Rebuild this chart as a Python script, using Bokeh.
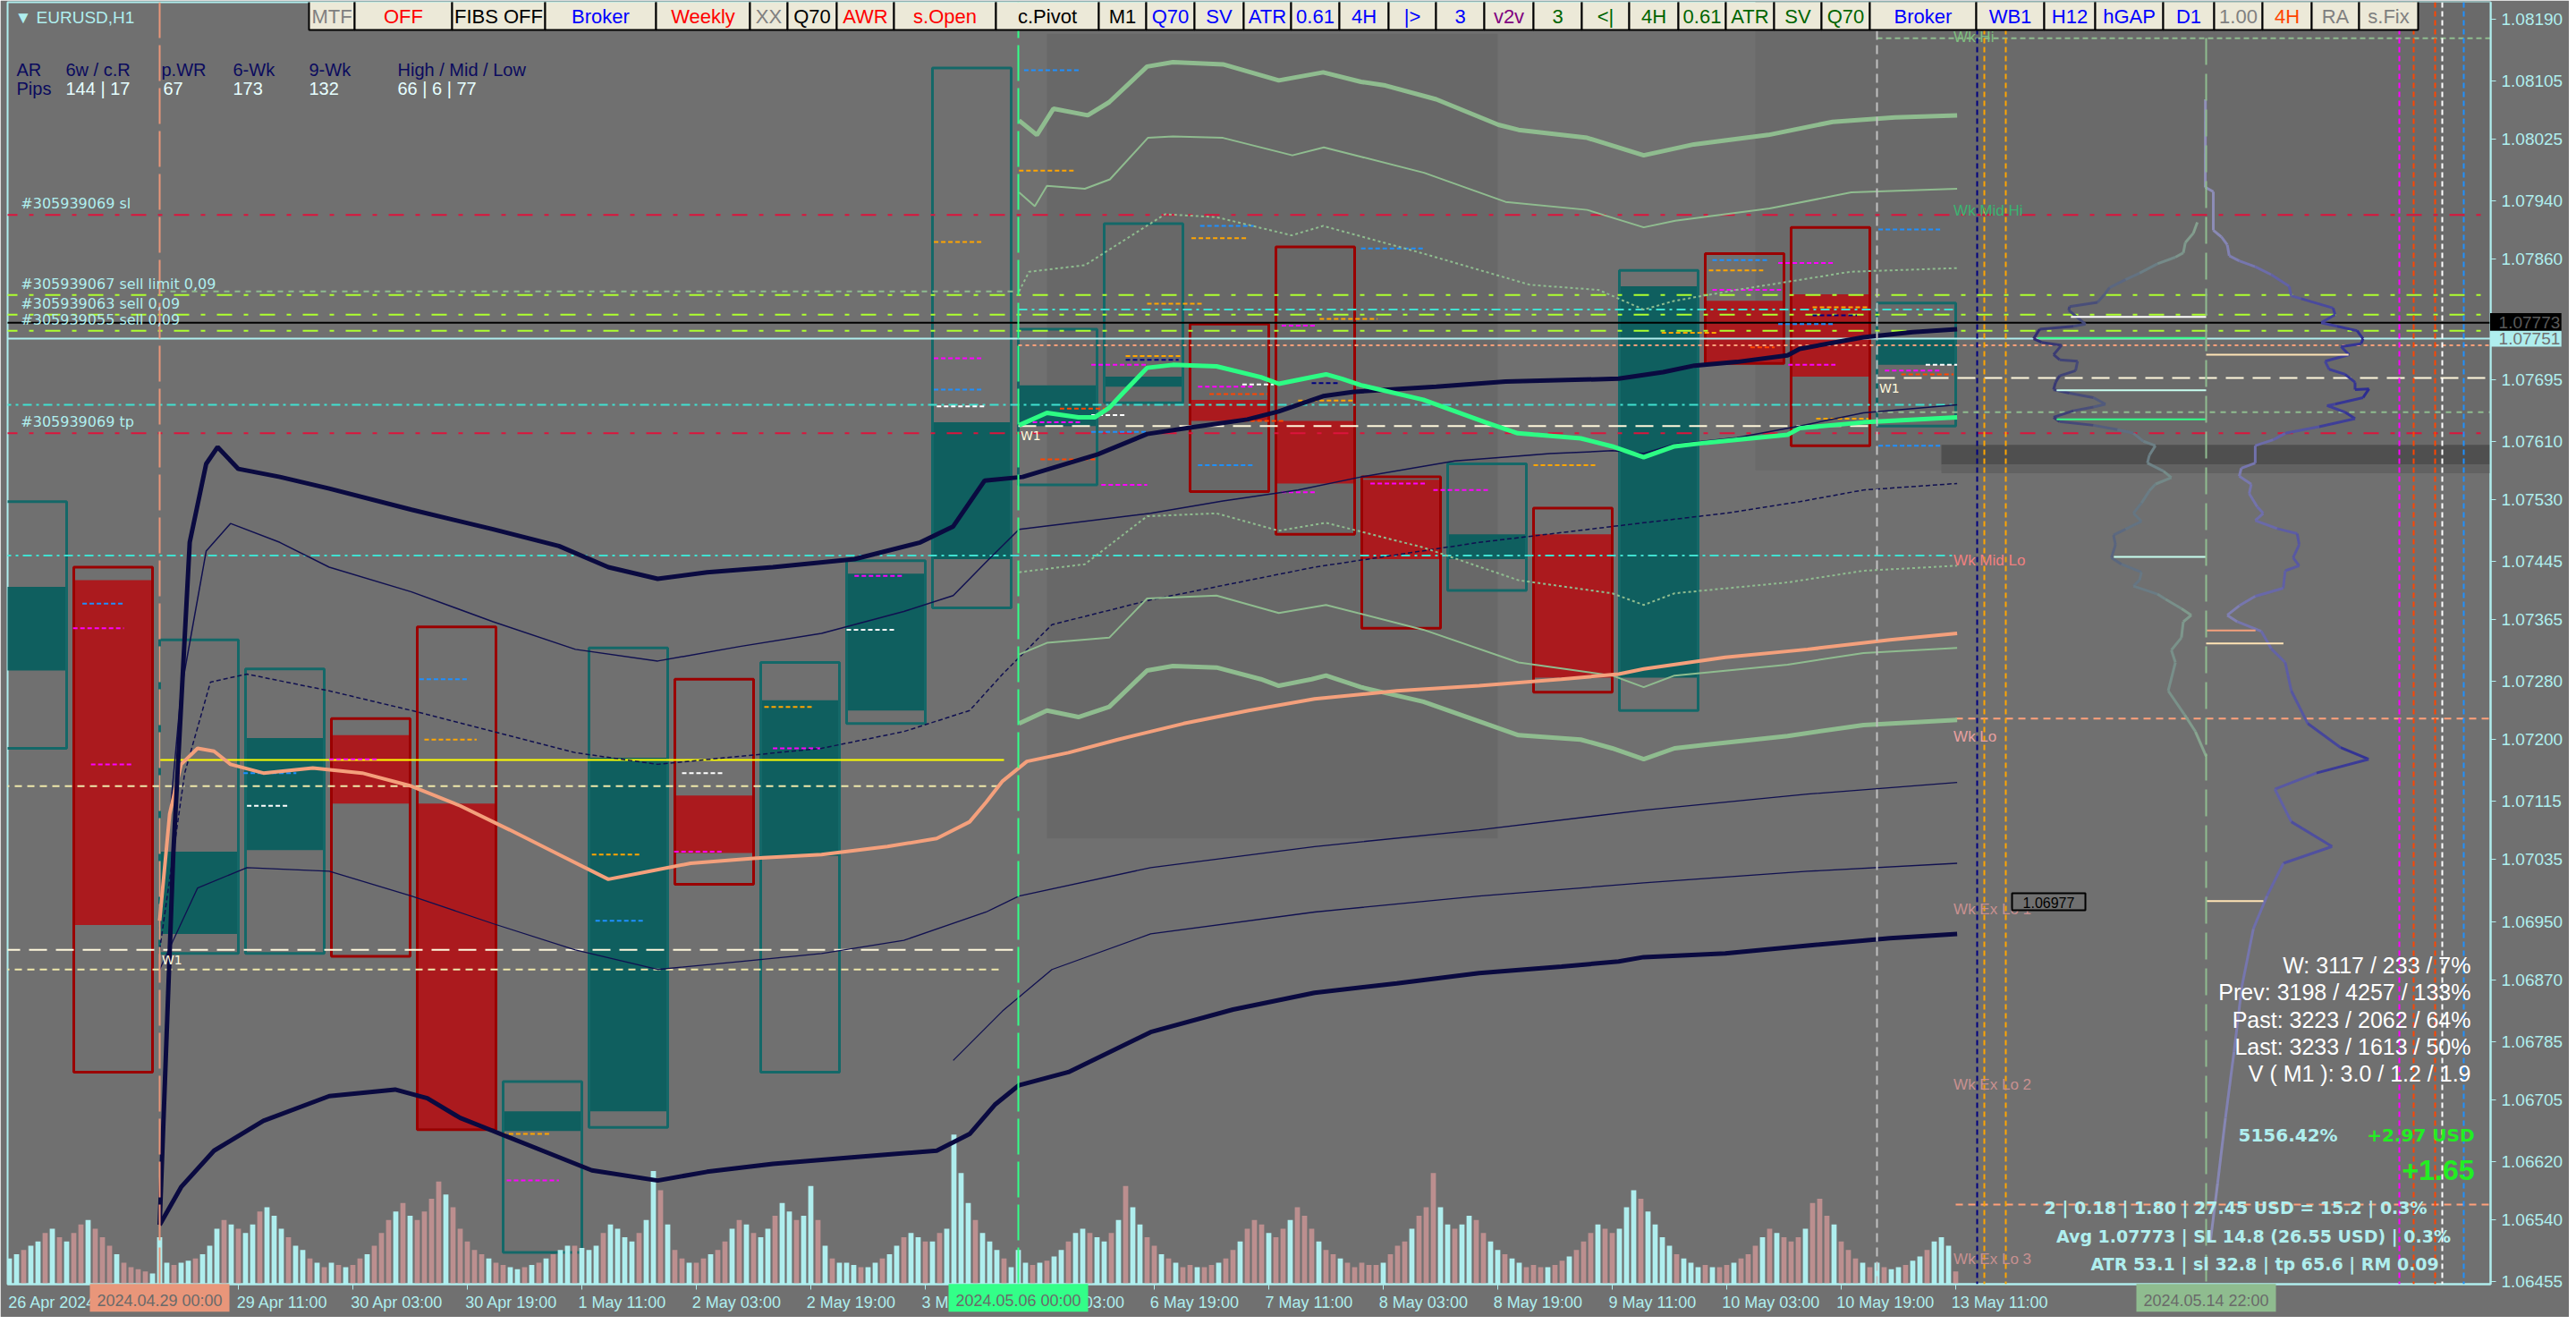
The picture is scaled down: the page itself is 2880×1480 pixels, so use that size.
from bokeh.plotting import figure
from bokeh.models import (Range1d, LinearAxis, FixedTicker, PrintfTickFormatter,
                          Label, BoxAnnotation, Span)
from bokeh.core.properties import value
from bokeh.embed import file_html
from bokeh.resources import INLINE

BG = "#707070"
FG = "#afeeee"

# ---------------- axes data ----------------
price_ticks = [1.08190, 1.08105, 1.08025, 1.07940, 1.07860, 1.07695, 1.07610, 1.07530,
               1.07445, 1.07365, 1.07280, 1.07200, 1.07115, 1.07035, 1.06950, 1.06870,
               1.06785, 1.06705, 1.06620, 1.06540, 1.06455]
# bar index 0 = 26 Apr 2024 03:00 (H1 bars)
time_tick_idx = [16, 32, 48, 64, 80, 96, 112, 128, 144, 160, 176, 192, 208, 224, 240, 256, 272]
time_tick_lbl = ["26 Apr 19:00", "29 Apr 11:00", "30 Apr 03:00", "30 Apr 19:00", "1 May 11:00",
                 "2 May 03:00", "2 May 19:00", "3 May 11:00", "6 May 03:00", "6 May 19:00",
                 "7 May 11:00", "8 May 03:00", "8 May 19:00", "9 May 11:00", "10 May 03:00",
                 "10 May 19:00", "13 May 11:00"]
first_date_lbl = "26 Apr 2024"
# highlighted dates on the time axis: bar index, text
hl_idx = [21, 141, 307]
hl_txt = ["2024.04.29 00:00", "2024.05.06 00:00", "2024.05.14 22:00"]
# tags on the price axis
tag_price = [1.07773, 1.07751]

# ---------------- H12 candles ----------------
c_start = [-3, 9, 21, 33, 45, 57, 69, 81, 93, 105, 117, 129, 141, 153, 165, 177, 189, 201, 213, 225, 237, 249, 261]
c_open = [1.07295, 1.07419, 1.06933, 1.07048, 1.07206, 1.07112, 1.06662, 1.06689, 1.07123, 1.07040, 1.07240, 1.07448,
          1.07631, 1.07685, 1.07667, 1.07638, 1.07557, 1.07448, 1.07482, 1.07285, 1.07803, 1.07812, 1.07715]
c_high = [1.07527, 1.07437, 1.07337, 1.07297, 1.07229, 1.07355, 1.06730, 1.07326, 1.07283, 1.07306, 1.07446, 1.08123,
          1.07764, 1.07909, 1.07771, 1.07877, 1.07561, 1.07579, 1.07518, 1.07845, 1.07868, 1.07904, 1.07800]
c_low = [1.07188, 1.06743, 1.06906, 1.06906, 1.06902, 1.06664, 1.06495, 1.06667, 1.07001, 1.06743, 1.07222, 1.07381,
         1.07550, 1.07663, 1.07541, 1.07482, 1.07353, 1.07405, 1.07265, 1.07240, 1.07717, 1.07604, 1.07631]
c_close = [1.07410, 1.06945, 1.07046, 1.07202, 1.07112, 1.06665, 1.06689, 1.07175, 1.07044, 1.07254, 1.07428, 1.07636,
           1.07687, 1.07699, 1.07638, 1.07552, 1.07448, 1.07482, 1.07285, 1.07823, 1.07717, 1.07699, 1.07751]

# ---------------- H1 tick volumes ----------------
vol_26apr = [600, 700, 800, 900, 1000, 1200, 1300, 1100, 1000, 1200, 1400, 1500, 1300, 1100, 900, 700, 500, 400, 350, 300, 250]
vol_29apr = [1100, 500, 450, 500, 550, 600, 700, 900, 1300, 1500, 1400, 1300, 1200, 1400, 1700, 1800, 1600, 1300, 1100, 900, 800, 600, 500, 400]
vol_30apr = [500, 450, 400, 450, 600, 700, 900, 1200, 1500, 1700, 1900, 1600, 1500, 1700, 2000, 2400, 2100, 1800, 1300, 1000, 800, 700, 600, 500]
vol_01may = [450, 400, 350, 400, 450, 500, 600, 700, 800, 900, 900, 850, 800, 900, 1200, 1400, 1300, 1100, 1000, 1200, 1500, 2650, 2200, 1400]
vol_02may = [800, 600, 500, 500, 600, 700, 800, 1000, 1300, 1500, 1400, 1200, 1100, 1300, 1600, 1900, 1700, 1500, 1600, 2300, 1500, 900, 600, 500]
vol_03may = [500, 450, 400, 400, 500, 600, 700, 900, 1100, 1200, 1100, 1000, 1000, 1200, 1300, 3500, 2600, 1900, 1500, 1200, 1000, 800, 600, 400]
vol_06may = [800, 500, 450, 500, 550, 650, 800, 1000, 1200, 1300, 1200, 1100, 1000, 1200, 1500, 2300, 1800, 1400, 1100, 900, 700, 600, 500, 400]
vol_07may = [450, 400, 400, 450, 500, 600, 800, 1000, 1300, 1500, 1400, 1200, 1100, 1300, 1500, 1800, 1600, 1300, 1000, 800, 700, 600, 500, 400]
vol_08may = [500, 450, 450, 500, 700, 900, 1000, 1300, 1600, 1800, 2600, 1800, 1400, 1300, 1400, 1600, 1500, 1200, 1000, 800, 700, 600, 500, 400]
vol_09may = [450, 400, 400, 450, 550, 650, 800, 1000, 1200, 1400, 1300, 1200, 1300, 1800, 2200, 2000, 1700, 1400, 1100, 900, 700, 600, 500, 400]
vol_10may = [450, 400, 400, 450, 500, 600, 700, 900, 1100, 1300, 1200, 1100, 1000, 1100, 1300, 1900, 2000, 1600, 1400, 1000, 800, 600, 500, 400]
vol_13may = [500, 400, 350, 400, 450, 550, 650, 800, 1000, 1100, 900, 300]
vol_dir = ("uuduududu" "dduddduddddu"
           "uuduuduuudud" "uuduuuduudud"
           "ududdudddudu" "ddddudddddud"
           "duudududuudu" "uuduuuuduudu"
           "ddudduddudud" "uuduuduududu"
           "uuduuduuduud" "uduuuuduuudu"
           "uududuuduudu" "ududuuddudud"
           "dudduddudddu" "dduddduddudd"
           "dddudddudddu" "uduudduuduud"
           "dduddudddudd" "uuuduuuuduuu"
           "duddudddudud" "ddudddudddud"
           "uduuduuduuud")

# ---------------- indicator lines (bar index, price) ----------------
nav_up_x = [21.0, 22.9, 25.2, 27.5, 29.1, 32.0, 37.8, 44.7, 56.2, 67.6, 76.8, 83.7, 90.6, 97.5, 106.7, 118.1, 127.3, 131.9, 136.3, 141.6, 152.1, 159.0, 165.2, 173.0, 177.4, 183.6, 187.9, 199.4, 209.1, 224.9, 231.1, 235.5, 241.4, 248.5, 250.2, 259.1, 266.0, 272.2]
nav_up_y = [1.06533, 1.07042, 1.07471, 1.07579, 1.07602, 1.07572, 1.07561, 1.07545, 1.07516, 1.07489, 1.07466, 1.07437, 1.07421, 1.07430, 1.07437, 1.07448, 1.07471, 1.07493, 1.07556, 1.07561, 1.07592, 1.07620, 1.07629, 1.07640, 1.07651, 1.07672, 1.07678, 1.07685, 1.07692, 1.07696, 1.07705, 1.07714, 1.07719, 1.07728, 1.07737, 1.07753, 1.07760, 1.07764]
nav_dn_x = [21.0, 24.0, 28.6, 35.5, 44.7, 53.9, 58.4, 63.0, 67.6, 74.5, 81.4, 90.6, 97.5, 106.7, 118.1, 129.6, 134.2, 137.7, 141.1, 148.0, 159.5, 171.0, 182.4, 193.9, 205.4, 216.9, 224.9, 228.4, 239.8, 251.3, 262.8, 272.2]
nav_dn_y = [1.06533, 1.06585, 1.06635, 1.06676, 1.06710, 1.06719, 1.06707, 1.06680, 1.06662, 1.06635, 1.06608, 1.06594, 1.06606, 1.06617, 1.06626, 1.06635, 1.06658, 1.06698, 1.06725, 1.06743, 1.06798, 1.06829, 1.06852, 1.06865, 1.06879, 1.06888, 1.06895, 1.06901, 1.06906, 1.06917, 1.06927, 1.06933]
sal_x = [21.0, 22.4, 24.0, 26.3, 28.6, 30.9, 35.5, 42.4, 49.3, 56.2, 63.0, 69.9, 76.8, 83.7, 89.4, 95.2, 104.4, 113.5, 122.7, 129.6, 134.2, 136.5, 138.8, 142.2, 148.0, 154.9, 164.1, 173.2, 182.4, 193.9, 205.4, 216.9, 224.9, 228.4, 239.8, 251.3, 262.8, 272.2]
sal_y = [1.06951, 1.07098, 1.07166, 1.07188, 1.07184, 1.07166, 1.07154, 1.07161, 1.07154, 1.07136, 1.07109, 1.07076, 1.07042, 1.07008, 1.07019, 1.07030, 1.07037, 1.07042, 1.07053, 1.07064, 1.07087, 1.07114, 1.07143, 1.07170, 1.07182, 1.07200, 1.07222, 1.07240, 1.07256, 1.07267, 1.07274, 1.07283, 1.07290, 1.07297, 1.07313, 1.07324, 1.07337, 1.07346]
nav_in1_x = [21.0, 24.0, 27.5, 30.9, 37.8, 44.7, 56.2, 67.6, 79.1, 90.6, 102.1, 113.5, 125.0, 131.9, 136.5, 141.1, 159.5, 169.6, 180.1, 188.9, 202.0, 215.3, 224.0, 228.4, 232.7, 241.4, 250.2, 259.1, 272.2]
nav_in1_y = [1.06940, 1.07267, 1.07459, 1.07497, 1.07471, 1.07437, 1.07403, 1.07362, 1.07324, 1.07308, 1.07328, 1.07346, 1.07376, 1.07398, 1.07444, 1.07489, 1.07511, 1.07528, 1.07543, 1.07561, 1.07583, 1.07593, 1.07597, 1.07593, 1.07606, 1.07615, 1.07631, 1.07649, 1.07660]
nav_in2_x = [21.0, 24.5, 28.1, 33.2, 44.7, 56.2, 67.6, 79.1, 90.6, 102.1, 113.5, 125.0, 134.2, 138.8, 145.7, 159.5, 182.4, 205.4, 228.4, 239.8, 250.2, 259.1, 272.2]
nav_in2_y = [1.06911, 1.07154, 1.07279, 1.07290, 1.07267, 1.07240, 1.07211, 1.07182, 1.07166, 1.07177, 1.07188, 1.07211, 1.07240, 1.07290, 1.07358, 1.07392, 1.07437, 1.07471, 1.07498, 1.07511, 1.07527, 1.07543, 1.07552]
nav_in3_x = [21.0, 26.3, 33.2, 44.7, 56.2, 67.6, 79.1, 90.6, 102.1, 113.5, 125.0, 136.5, 141.1, 159.5, 182.4, 205.4, 228.4, 251.3, 272.2]
nav_in3_y = [1.06884, 1.06996, 1.07024, 1.07019, 1.06985, 1.06947, 1.06911, 1.06884, 1.06895, 1.06906, 1.06924, 1.06963, 1.06985, 1.07024, 1.07053, 1.07076, 1.07103, 1.07125, 1.07141]
nav_in4_x = [131.9, 138.8, 145.7, 159.5, 182.4, 205.4, 228.4, 251.3, 272.2]
nav_in4_y = [1.06759, 1.06827, 1.06884, 1.06933, 1.06963, 1.06985, 1.07003, 1.07019, 1.07030]
grn_x = [141.1, 145.0, 149.4, 151.7, 153.7, 155.6, 159.0, 162.6, 168.7, 174.9, 177.4, 181.9, 184.0, 186.2, 188.9, 197.6, 206.3, 210.8, 219.6, 224.0, 228.4, 232.7, 237.1, 248.5, 250.2, 259.1, 272.2]
grn_y = [1.07632, 1.07649, 1.07643, 1.07643, 1.07656, 1.07676, 1.07711, 1.07715, 1.07713, 1.07698, 1.07689, 1.07698, 1.07702, 1.07696, 1.07687, 1.07667, 1.07636, 1.07621, 1.07614, 1.07603, 1.07588, 1.07603, 1.07608, 1.07619, 1.07628, 1.07636, 1.07643]
sg1_x = [141.1, 143.6, 145.9, 150.7, 153.7, 159.0, 162.6, 169.6, 177.4, 183.6, 188.9, 192.3, 199.4, 208.1, 210.9, 220.5, 228.4, 235.4, 245.8, 254.8, 263.5, 272.2]
sg1_y = [1.08051, 1.08031, 1.08067, 1.08058, 1.08076, 1.08125, 1.08131, 1.08128, 1.08106, 1.08117, 1.08104, 1.08099, 1.08080, 1.08045, 1.08038, 1.08027, 1.08003, 1.08018, 1.08031, 1.08049, 1.08055, 1.08058]
sg2_x = [141.1, 143.3, 145.0, 150.3, 153.8, 159.1, 162.6, 169.6, 179.3, 183.7, 188.9, 197.7, 209.1, 220.5, 228.4, 232.8, 246.0, 257.4, 272.2]
sg2_y = [1.07952, 1.07933, 1.07961, 1.07957, 1.07970, 1.08027, 1.08029, 1.08027, 1.08003, 1.08014, 1.08001, 1.07979, 1.07939, 1.07928, 1.07904, 1.07913, 1.07930, 1.07952, 1.07957]
sg3_x = [141.1, 142.5, 150.3, 155.1, 161.5, 168.7, 179.2, 183.6, 197.6, 212.5, 222.1, 228.4, 232.7, 241.4, 257.3, 272.2]
sg3_y = [1.07816, 1.07843, 1.07852, 1.07882, 1.07922, 1.07918, 1.07893, 1.07906, 1.07868, 1.07825, 1.07818, 1.07791, 1.07803, 1.07818, 1.07843, 1.07848]
sg1l_x = [141.1, 145.0, 149.4, 153.7, 159.0, 162.6, 168.7, 174.9, 177.4, 182.0, 184.0, 188.9, 197.6, 206.3, 210.9, 219.6, 224.0, 228.4, 232.7, 237.1, 248.5, 259.1, 272.2]
sg1l_y = [1.07222, 1.07240, 1.07231, 1.07245, 1.07295, 1.07301, 1.07299, 1.07283, 1.07274, 1.07283, 1.07288, 1.07272, 1.07252, 1.07222, 1.07206, 1.07200, 1.07188, 1.07173, 1.07188, 1.07193, 1.07205, 1.07220, 1.07227]
sg2l_x = [141.1, 145.0, 153.7, 159.0, 168.7, 177.4, 184.0, 197.6, 210.9, 224.0, 228.4, 232.7, 248.5, 259.1, 272.2]
sg2l_y = [1.07317, 1.07333, 1.07340, 1.07394, 1.07398, 1.07374, 1.07385, 1.07351, 1.07306, 1.07288, 1.07272, 1.07288, 1.07303, 1.07319, 1.07326]
sg3l_x = [141.1, 150.3, 159.0, 168.7, 177.4, 184.0, 197.6, 210.9, 224.0, 228.4, 232.7, 248.5, 259.1, 272.2]
sg3l_y = [1.07430, 1.07441, 1.07507, 1.07511, 1.07487, 1.07498, 1.07464, 1.07419, 1.07401, 1.07385, 1.07401, 1.07416, 1.07432, 1.07439]

# ---------------- horizontal levels ----------------
h_price = [1.08164, 1.07921, 1.07816, 1.07811, 1.07784, 1.07773, 1.07762, 1.07751, 1.07742, 1.07791, 1.07660,
           1.07697, 1.07631, 1.06911, 1.07650, 1.07621, 1.07453, 1.07229, 1.06561, 1.07172, 1.07136, 1.06884]
h_from = [261, -1, 21, -1, -1, -1, -1, -1, 141, 141, -1, 261, 141, -1, 261, -1, -1, 272, 272, 21, -1, -1]
h_to = [347, 347, 141, 347, 347, 347, 347, 347, 347, 272, 272, 347, 261, 141, 347, 347, 272, 347, 347, 139, 139, 139]
h_color = ["#8fbc8f", "#dc143c", "#8fbc8f", "#adff2f", "#adff2f", "#000000", "#adff2f", FG, "#ffa07a", "#40e0d0", "#40e0d0",
           "#fff8dc", "#fff8dc", "#fff8dc", "#8fbc8f", "#dc143c", "#40e0d0", "#ffa07a", "#ffa07a", "#ffff00", "#eee8aa", "#eee8aa"]
h_dash = ["6 4", "17 13 5 13", "6 6", "17 13 5 13", "17 13 5 13", "solid", "17 13 5 13", "solid", "4 4", "10 5 3 5", "10 5 3 5",
          "20 10", "20 10", "20 10", "6 6", "17 13 5 13", "10 5 3 5", "8 6", "8 6", "solid", "8 6", "8 6"]

# ---------------- vertical markers ----------------
v_idx = [21, 141, 261, 275, 276, 279, 307, 334, 336, 339, 340, 343]
v_color = ["#e9967a", "#33ff88", "#c0c0c0", "#000080", "#ffa500", "#ffa500", "#8fbc8f", "#ff00ff", "#ff4500", "#ff4500", "#ffffff", "#1e90ff"]
v_dash = ["40 8", "40 8", "10 6", "6 4", "6 4", "6 4", "30 10", "6 4", "6 4", "6 4", "6 4", "6 4"]

# ---------------- short level ticks ----------------
t_x0 = [141.8, 141.1, 166.4, 165.2, 188.9, 159.0, 183.1, 177.8, 156.0, 156.0, 151.2, 166.1, 167.7, 172.3, 182.0, 180.1, 146.8, 151.2, 142.0, 151.2, 171.4, 144.1, 166.1, 152.6, 177.8, 190.2, 199.0, 213.0, 238.0, 237.5, 247.2, 238.0, 252.0, 252.0, 247.2, 230.9, 243.3, 248.6, 252.5, 261.2, 261.2, 267.8, 262.1, 264.4,
        8.9, 10.2, 11.4, 32.7, 33.2, 44.7, 57.3, 58.0, 68.8, 69.5, 81.4, 81.9, 92.9, 94.0, 105.5, 106.7, 117.0, 118.1, 129.2, 129.6, 129.2, 129.2]
t_x1 = [149.8, 148.9, 173.9, 173.0, 197.6, 166.8, 191.2, 182.7, 163.8, 163.4, 159.0, 173.9, 175.8, 176.7, 185.9, 188.0, 153.7, 156.0, 149.8, 159.0, 178.3, 152.1, 173.9, 159.0, 182.7, 198.0, 206.8, 221.7, 245.8, 245.1, 255.2, 247.6, 259.8, 258.2, 255.2, 238.9, 246.7, 255.2, 259.8, 269.9, 269.9, 272.2, 269.9, 271.7,
        16.0, 16.0, 17.1, 40.1, 38.9, 51.6, 64.2, 65.3, 75.7, 76.8, 88.3, 88.8, 99.8, 99.8, 112.4, 113.5, 123.9, 125.0, 136.1, 136.5, 136.1, 136.1]
t_p = [1.08120, 1.07982, 1.07906, 1.07889, 1.07875, 1.07799, 1.07778, 1.07769, 1.07727, 1.07722, 1.07715, 1.07685, 1.07675, 1.07688, 1.07690, 1.07666, 1.07655, 1.07646, 1.07636, 1.07623, 1.07638, 1.07585, 1.07577, 1.07550, 1.07540, 1.07552, 1.07543, 1.07577, 1.07859, 1.07845, 1.07855, 1.07818, 1.07794, 1.07783, 1.07771, 1.07759, 1.07739, 1.07715, 1.07641, 1.07901, 1.07604, 1.07715, 1.07707, 1.07702,
       1.07353, 1.07387, 1.07166, 1.07154, 1.07109, 1.07173, 1.07283, 1.07200, 1.06658, 1.06594, 1.07042, 1.06951, 1.07046, 1.07154, 1.07245, 1.07188, 1.07351, 1.07425, 1.07884, 1.07658, 1.07724, 1.07681]
t_c = ["#1e90ff", "#ffa500", "#1e90ff", "#ffa500", "#1e90ff", "#ffa500", "#ffa500", "#ff00ff", "#ffa500", "#000080", "#ff00ff", "#ff00ff", "#ff4500", "#ffffff", "#000080", "#ffa500", "#ff4500", "#ffffff", "#ff00ff", "#1e90ff", "#ff4500", "#ff4500", "#1e90ff", "#ff00ff", "#ff00ff", "#ff00ff", "#ff00ff", "#ffa500", "#1e90ff", "#ffa500", "#ff00ff", "#ff00ff", "#ffa500", "#000080", "#1e90ff", "#ffa500", "#ff4500", "#ff00ff", "#ffa500", "#1e90ff", "#1e90ff", "#ffffff", "#ff00ff", "#ff4500",
       "#ff00ff", "#1e90ff", "#ff00ff", "#1e90ff", "#ffffff", "#ff00ff", "#1e90ff", "#ffa500", "#ffa500", "#ff00ff", "#ffa500", "#1e90ff", "#ff00ff", "#ffffff", "#ffa500", "#ff00ff", "#ffffff", "#ff00ff", "#ffa500", "#ffffff", "#ff00ff", "#1e90ff"]

# ---------------- weekly volume profile ----------------
prof_center = 307
prof_l_dx = [-1.23, -1.79, -2.91, -3.19, -4.3, -6.81, -9.32, -11.28, -13.51, -14.35, -15.18, -19.09, -19.2, -16.86, -18.53, -23.27, -24.11, -23.0, -20.2, -21.32, -20.48, -17.97, -18.25, -20.48, -21.04, -21.32, -19.09, -15.74, -14.07, -15.74, -18.53, -21.32, -20.48, -15.74, -12.39, -10.16, -8.77, -7.09, -7.93, -8.21, -5.97, -4.86, -7.09, -7.93, -9.04, -10.16, -9.04, -11.28, -12.95, -12.67, -13.23, -11.83, -9.04, -9.32, -10.16, -6.81, -5.69, -3.46, -2.07, -3.19, -3.46, -4.86, -4.3, -5.3, -3.0, -1.5, 0.0]
prof_l_p = [1.07911, 1.07896, 1.07883, 1.07869, 1.07863, 1.07854, 1.07841, 1.07832, 1.07821, 1.07810, 1.07801, 1.07795, 1.07790, 1.07771, 1.07768, 1.07764, 1.07751, 1.07746, 1.07742, 1.07729, 1.07722, 1.07720, 1.07707, 1.07700, 1.07691, 1.07681, 1.07676, 1.07670, 1.07661, 1.07657, 1.07652, 1.07643, 1.07637, 1.07632, 1.07626, 1.07621, 1.07610, 1.07604, 1.07591, 1.07580, 1.07569, 1.07560, 1.07551, 1.07542, 1.07525, 1.07511, 1.07500, 1.07489, 1.07481, 1.07468, 1.07450, 1.07441, 1.07430, 1.07419, 1.07411, 1.07400, 1.07393, 1.07380, 1.07371, 1.07362, 1.07340, 1.07323, 1.07306, 1.07267, 1.07234, 1.07211, 1.07177]
prof_r_dx = [-0.1, -0.12, 1.0, 1.0, 2.12, 2.95, 3.23, 4.63, 6.86, 9.09, 11.6, 11.88, 13.28, 17.74, 18.02, 16.07, 18.3, 21.09, 21.93, 21.65, 18.86, 19.97, 16.63, 17.18, 19.41, 20.81, 20.81, 22.76, 21.93, 18.02, 16.9, 19.41, 20.81, 15.79, 11.05, 9.37, 6.86, 6.86, 4.91, 4.63, 6.3, 6.02, 7.14, 7.98, 6.86, 9.93, 12.72, 13.0, 12.16, 13.0, 11.05, 10.77, 6.86, 4.63, 2.95, 4.35, 7.7, 9.09, 11.05, 11.9, 14.2, 18.8, 22.7, 15.4, 9.6, 11.9, 17.6, 10.8, 8.5, 6.6, 5.0, 3.9, 2.7, 1.6, 0.6]
prof_r_p = [1.08080, 1.07959, 1.07953, 1.07900, 1.07891, 1.07880, 1.07865, 1.07858, 1.07850, 1.07839, 1.07823, 1.07810, 1.07806, 1.07793, 1.07784, 1.07773, 1.07768, 1.07762, 1.07751, 1.07744, 1.07740, 1.07729, 1.07720, 1.07709, 1.07702, 1.07691, 1.07681, 1.07682, 1.07670, 1.07661, 1.07659, 1.07650, 1.07641, 1.07630, 1.07621, 1.07612, 1.07604, 1.07580, 1.07573, 1.07562, 1.07551, 1.07538, 1.07520, 1.07511, 1.07501, 1.07490, 1.07483, 1.07468, 1.07450, 1.07439, 1.07432, 1.07408, 1.07397, 1.07384, 1.07371, 1.07362, 1.07349, 1.07325, 1.07306, 1.07267, 1.07222, 1.07189, 1.07173, 1.07154, 1.07132, 1.07087, 1.07053, 1.07030, 1.06985, 1.06940, 1.06861, 1.06771, 1.06680, 1.06590, 1.06511]
pl_dx0 = [-18.9, -23.5, 0.0, -20.9, -20.9, -12.9, 0.0, 0.0, 0.0]
pl_dx1 = [0.0, 0.0, 19.9, 0.0, 0.0, 0.0, 6.9, 10.8, 8.0]
pl_p = [1.07781, 1.07752, 1.07729, 1.07680, 1.07640, 1.07451, 1.07350, 1.07332, 1.06978]
pl_c = ["#ffffff", "#33ff88", "#ffe4b5", "#c8fff0", "#33ff88", "#c8fff0", "#f4a07c", "#ffe4b5", "#ffe4b5"]

# ---------------- figure ----------------
X0, X1 = -0.25, 346.75
Y0, Y1 = 1.064515, 1.082134
p = figure(frame_width=2776, frame_height=1433,
           x_range=Range1d(X0, X1), y_range=Range1d(Y0, Y1),
           x_axis_location=None, y_axis_location=None, toolbar_location=None,
           output_backend="svg", background_fill_color=BG, border_fill_color=BG,
           min_border_left=8, min_border_top=2, min_border_right=88, min_border_bottom=37)
p.outline_line_color = FG
p.outline_line_width = 2
p.grid.visible = False
p.extra_y_ranges = {"vol": Range1d(0, 30000)}

p.quad(left=[145, 244], right=[208, 347], bottom=[1.07064, 1.07570], top=[1.08170, 1.08215],
       fill_color=["#686868", "#6a6a6a"], line_color=None)
p.quad(left=[270, 270], right=[347, 347], bottom=[1.07578, 1.07566], top=[1.07605, 1.07578],
       fill_color=["#4f4f4f", "#626262"], line_color=None)

bull = [c >= o for o, c in zip(c_open, c_close)]
body_col = ["#0f5f5f" if b else "#ab1a1e" for b in bull]
edge_col = ["#146868" if b else "#9a0000" for b in bull]
p.quad(left=c_start, right=[s + 11 for s in c_start],
       bottom=[min(o, c) for o, c in zip(c_open, c_close)], top=[max(o, c) for o, c in zip(c_open, c_close)],
       fill_color=body_col, line_color=None)
p.quad(left=c_start, right=[s + 11 for s in c_start], bottom=c_low, top=c_high,
       fill_color=None, line_color=edge_col, line_width=3)

volumes = vol_26apr + vol_29apr + vol_30apr + vol_01may + vol_02may + vol_03may + vol_06may + vol_07may + vol_08may + vol_09may + vol_10may + vol_13may
dirs = (vol_dir + "u" * 400)[:len(volumes)]
p.vbar(x=list(range(len(volumes))), width=0.72, top=volumes, bottom=0, y_range_name="vol",
       fill_color=[FG if d == "u" else "#bc8f8f" for d in dirs], line_color=None)

for pr, a, b, c, d in zip(h_price, h_from, h_to, h_color, h_dash):
    p.segment(x0=[a], y0=[pr], x1=[b], y1=[pr], line_color=c, line_width=2, line_dash=d)

p.segment(x0=t_x0, y0=t_p, x1=t_x1, y1=t_p, line_color=t_c, line_width=2, line_dash="5 3")

p.line(nav_in4_x, nav_in4_y, line_color="#101050", line_width=1.3)
p.line(nav_in3_x, nav_in3_y, line_color="#101050", line_width=1.3)
p.line(nav_in2_x, nav_in2_y, line_color="#101050", line_width=1.5, line_dash="5 3")
p.line(nav_in1_x, nav_in1_y, line_color="#101050", line_width=1.5)
p.line(sg3_x, sg3_y, line_color="#8fbc8f", line_width=2, line_dash="3 3")
p.line(sg3l_x, sg3l_y, line_color="#8fbc8f", line_width=2, line_dash="3 3")
p.line(sg2_x, sg2_y, line_color="#8fbc8f", line_width=2)
p.line(sg2l_x, sg2l_y, line_color="#8fbc8f", line_width=2)
p.line(sg1_x, sg1_y, line_color="#8fbc8f", line_width=5)
p.line(sg1l_x, sg1l_y, line_color="#8fbc8f", line_width=5)
p.line(sal_x, sal_y, line_color="#f4a07c", line_width=4)
p.line(nav_up_x, nav_up_y, line_color="#0a0a40", line_width=5)
p.line(nav_dn_x, nav_dn_y, line_color="#0a0a40", line_width=5)
p.line(grn_x, grn_y, line_color="#2dfc84", line_width=5)

for vi, vc, vd in zip(v_idx, v_color, v_dash):
    p.add_layout(Span(location=vi, dimension="height", line_color=vc, line_width=2, line_dash=vd))


def mix(c1, c2, t):
    a = [int(c1[i:i + 2], 16) for i in (1, 3, 5)]
    b = [int(c2[i:i + 2], 16) for i in (1, 3, 5)]
    return "#" + "".join("%02x" % int(round(x + (y - x) * t)) for x, y in zip(a, b))


def profile(dx, pr, c_lo, c_hi):
    xs = [prof_center + d for d in dx]
    mx = max(abs(d) for d in dx)
    segs_x = [[xs[k], xs[k + 1]] for k in range(len(xs) - 1)]
    segs_y = [[pr[k], pr[k + 1]] for k in range(len(xs) - 1)]
    cols = [mix(c_lo, c_hi, min(1.0, (abs(dx[k]) + abs(dx[k + 1])) / 2 / mx)) for k in range(len(xs) - 1)]
    p.multi_line(segs_x, segs_y, line_color=cols, line_width=3)


profile(prof_l_dx, prof_l_p, "#8aa890", "#2e2a70")
profile(prof_r_dx, prof_r_p, "#9090b8", "#2a2a90")
p.segment(x0=[prof_center + d for d in pl_dx0], y0=pl_p, x1=[prof_center + d for d in pl_dx1], y1=pl_p,
          line_color=pl_c, line_width=2)

# ---------------- axes ----------------
ax_p = LinearAxis(ticker=FixedTicker(ticks=price_ticks), formatter=PrintfTickFormatter(format="%.5f"))
ax_p.axis_line_color = FG
ax_p.axis_line_width = 2
ax_p.major_tick_line_color = FG
ax_p.major_tick_out = 6
ax_p.major_tick_in = 0
ax_p.minor_tick_line_color = None
ax_p.major_label_text_color = FG
ax_p.major_label_text_font = "Liberation Sans"
ax_p.major_label_text_font_size = "19px"
ax_p.major_label_standoff = 6
p.add_layout(ax_p, "right")

ax_t = LinearAxis(ticker=FixedTicker(ticks=time_tick_idx))
ax_t.axis_line_color = FG
ax_t.axis_line_width = 2
ax_t.major_tick_line_color = FG
ax_t.major_tick_out = 6
ax_t.major_tick_in = 0
ax_t.minor_tick_line_color = None
ax_t.major_label_text_alpha = 0
ax_t.major_label_text_font_size = "1px"
ax_t.major_label_standoff = 0
p.add_layout(ax_t, "below")

CW = 8.7  # approx. px per character of the 18px time labels
lbl_pos = [round(t + (len(s) * CW / 2 - 3) / 8, 2) for t, s in zip(time_tick_idx, time_tick_lbl)]
first_pos = round(X0 + (len(first_date_lbl) * CW / 2 + 2) / 8, 2)
ax_l = LinearAxis(ticker=FixedTicker(ticks=[first_pos] + lbl_pos),
                  major_label_overrides=dict(zip([first_pos] + lbl_pos, [first_date_lbl] + time_tick_lbl)))
ax_l.axis_line_color = None
ax_l.major_tick_line_color = None
ax_l.minor_tick_line_color = None
ax_l.major_label_text_color = FG
ax_l.major_label_text_font = "Liberation Sans"
ax_l.major_label_text_font_size = "18px"
ax_l.major_label_standoff = -2
p.add_layout(ax_l, "below")

# ---- highlighted dates on the time axis and tags on the price axis (overlay level) ----
EPS_Y = (Y1 - Y0) * 0.0002
EPS_X = (X1 - X0) * 0.0002
hl_fill = ["#e9967a", "#33ff88", "#8fbc8f"]
p.quad(left=[i - 9.75 for i in hl_idx], right=[i + 9.75 for i in hl_idx],
       bottom=[Y0 - (Y1 - Y0) * 0.0215] * 3, top=[Y0 + EPS_Y] * 3,
       fill_color=hl_fill, line_color=None, level="overlay")
p.text(x=hl_idx, y=[Y0 + EPS_Y] * 3, text=hl_txt, text_color="#6a6a6a", text_font=value("Liberation Sans"),
       text_font_size="18px", text_align="center", text_baseline="middle", y_offset=19, level="overlay")
p.quad(left=[X1 - EPS_X] * 2, right=[X1 + 9.9] * 2,
       bottom=[tag_price[0] - 0.00012, tag_price[1] - 0.00011], top=[tag_price[0] + 0.00013, tag_price[1] + 0.00011],
       fill_color=["#000000", FG], line_color=None, level="overlay")
p.text(x=[X1 - EPS_X] * 2, y=tag_price, text=["%.5f" % v for v in tag_price], text_color=["#5a5a5a", "#707070"],
       text_font=value("Liberation Sans"), text_font_size="19px", text_align="center", text_baseline="middle",
       x_offset=44, level="overlay")


# ---------------- texts ----------------
def lab(x, y, text, color, size, font="Liberation Sans", style="normal", align="left",
        baseline="middle", units="screen", yo=0):
    p.add_layout(Label(x=x, y=y, x_units=units, y_units=units, text=text, text_color=color,
                       text_font_size="%dpx" % size, text_font=font, text_font_style=style,
                       text_align=align, text_baseline=baseline, y_offset=yo))


def sbox(x0, x1, y0, y1, fill, line=None, lw=1):
    p.add_layout(BoxAnnotation(left=x0, right=x1, bottom=y0, top=y1, left_units="screen", right_units="screen",
                               bottom_units="screen", top_units="screen", fill_color=fill, fill_alpha=1,
                               line_color=line, line_width=lw, line_alpha=1 if line else 0))


buttons = [(345, 396, "MTF", "#808080"), (396, 505, "OFF", "#ff0000"), (505, 609, "FIBS OFF", "#000000"),
           (609, 733, "Broker", "#0000ff"), (733, 838, "Weekly", "#ff0000"), (838, 880, "XX", "#808080"),
           (880, 935, "Q70", "#000000"), (935, 999, "AWR", "#ff0000"), (999, 1113, "s.Open", "#ff0000"),
           (1113, 1228, "c.Pivot", "#000000"), (1228, 1281, "M1", "#000000"), (1281, 1335, "Q70", "#0000ff"),
           (1335, 1390, "SV", "#0000ff"), (1390, 1443, "ATR", "#0000ff"), (1443, 1497, "0.61", "#0000ff"),
           (1497, 1552, "4H", "#0000ff"), (1552, 1605, "|>", "#0000ff"), (1605, 1659, "3", "#0000ff"),
           (1659, 1714, "v2v", "#800080"), (1714, 1768, "3", "#006400"), (1768, 1821, "<|", "#006400"),
           (1821, 1876, "4H", "#006400"), (1876, 1929, "0.61", "#006400"), (1929, 1983, "ATR", "#006400"),
           (1983, 2036, "SV", "#006400"), (2036, 2090, "Q70", "#006400"), (2090, 2209, "Broker", "#0000ff"),
           (2209, 2285, "WB1", "#0000ff"), (2285, 2342, "H12", "#0000ff"), (2342, 2418, "hGAP", "#0000ff"),
           (2418, 2475, "D1", "#0000ff"), (2475, 2529, "1.00", "#808080"), (2529, 2584, "4H", "#ff4500"),
           (2584, 2637, "RA", "#808080"), (2637, 2703, "s.Fix", "#808080")]
for x0, x1, t, c in buttons:
    sbox(x0 - 8, x1 - 8, 1402, 1436, "#ece9d8", "#000000", 2)
    lab((x0 + x1) / 2 - 8, 1417, t, c, 22, align="center")

lab(8, 1416, "\u25bc EURUSD,H1", FG, 19)
for t, x in [("AR", 18), ("6w / c.R", 73), ("p.WR", 180), ("6-Wk", 260), ("9-Wk", 345), ("High / Mid / Low", 444)]:
    lab(x - 8, 1358, t, "#0b0b5e", 20)
lab(10, 1337, "Pips", "#0b0b5e", 20)
for t, x in [("144 | 17", 73), ("67", 182), ("173", 260), ("132", 345), ("66  |  6  |  77", 444)]:
    lab(x - 8, 1337, t, "#e6ffff", 20)

for t, pr in [("#305939069 sl", 1.07921), ("#305939067 sell limit 0,09", 1.07811), ("#305939063 sell 0,09", 1.07784),
              ("#305939055 sell 0,09", 1.07762), ("#305939069 tp", 1.07621)]:
    lab(1.6, pr, t, FG, 16, font="DejaVu Sans", baseline="bottom", units="data", yo=3)
for xi, pr in [(21.3, 1.06911), (141.3, 1.07631), (261.3, 1.07697)]:
    lab(xi, pr, "W1", "#fff8dc", 14, font="DejaVu Sans", baseline="top", units="data", yo=-3)
for t, pr, c in [("Wk Hi", 1.08166, "#7fbf7f"), ("Wk Mid Hi", 1.07927, "#3cb371"), ("Wk Mid Lo", 1.07446, "#f08080"),
                 ("Wk Lo", 1.07204, "#e8a0a0"), ("Wk Ex Lo 1", 1.06967, "#c89090"), ("Wk Ex Lo 2", 1.06726, "#c89090"),
                 ("Wk Ex Lo 3", 1.06486, "#c89090")]:
    lab(271.7, pr, t, c, 17, units="data")

sbox(2241, 2323, 418, 437, BG, "#000000", 2)
lab(2282, 427, "1.06977", "#000000", 16, align="center")

for t, y in [("W: 3117 / 233 / 7%", 357), ("Prev: 3198 / 4257 / 133%", 327), ("Past: 3223 / 2062 / 64%", 296),
             ("Last: 3233 / 1613 / 50%", 266), ("V ( M1 ): 3.0 / 1.2 / 1.9", 236)]:
    lab(2754, y, t, "#ffffff", 25, align="right")
lab(2494, 167, "5156.42%", FG, 20, font="DejaVu Sans", style="bold")
lab(2758, 167, "+2.97 USD", "#22ee22", 20, font="DejaVu Sans", style="bold", align="right")
lab(2758, 128, "+1.65", "#22ee22", 32, style="bold", align="right")
for t, y in [("2  |  0.18  |  1.80  |  27.45 USD = 15.2  |  0.3%", 86),
             ("Avg 1.07773  |  SL 14.8 (26.55 USD)  |  0.3%", 54),
             ("ATR 53.1  |  sl 32.8  |  tp 65.6  |  RM 0.09", 23)]:
    lab(2758, y, t, FG, 19, font="DejaVu Sans", style="bold", align="right")

open("out.html", "w").write(file_html(p, INLINE))
